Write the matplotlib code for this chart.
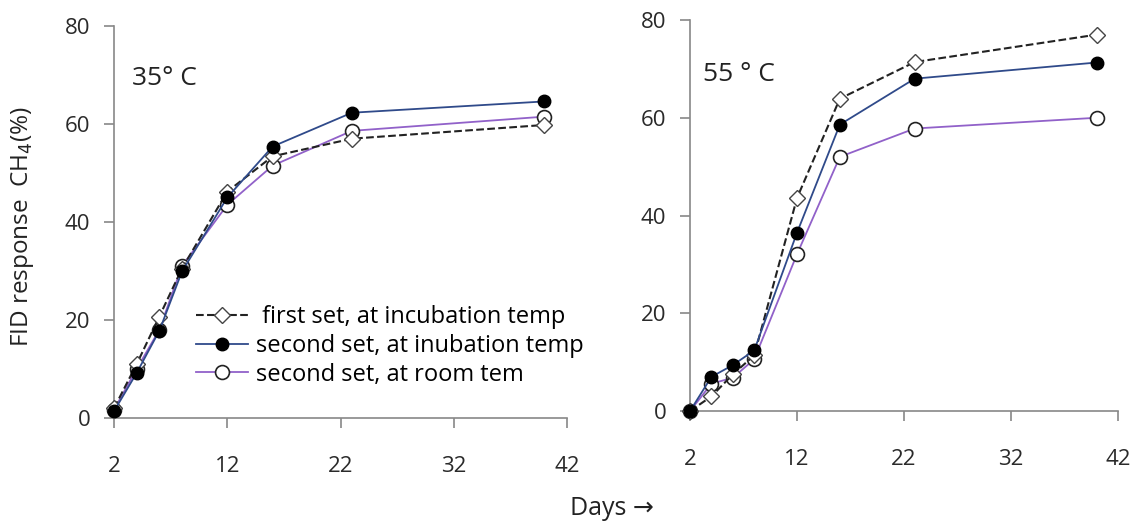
import matplotlib.pyplot as plt

plt.rcParams["font.family"] = ["Open Sans", "DejaVu Sans"]

# Data
days = [2, 4, 6, 8, 12, 16, 23, 40]

first_35 = [2.0, 11.0, 20.7, 30.5, 46.2, 53.4, 57.0, 59.8]
second_inc_35 = [1.4, 9.2, 17.8, 29.9, 45.0, 55.4, 62.3, 64.6]
second_room_35 = [1.7, 10.0, 18.0, 31.0, 43.5, 51.5, 58.6, 61.5]

first_55 = [0.0, 3.0, 7.5, 11.4, 43.6, 63.9, 71.4, 77.0]
second_inc_55 = [0.0, 7.0, 9.4, 12.4, 36.5, 58.6, 68.0, 71.3]
second_room_55 = [0.0, 5.6, 6.8, 10.6, 32.1, 52.0, 57.8, 60.0]

labels = [" first set, at incubation temp",
          "second set, at inubation temp",
          "second set, at room tem"]
xticks = [2, 12, 22, 32, 42]
yticks = [0, 20, 40, 60, 80]

fig = plt.figure(figsize=(11.37, 5.25), dpi=100)
ax1 = fig.add_axes([0.1003, 0.2038, 0.3984, 0.7467])
ax2 = fig.add_axes([0.6069, 0.2171, 0.3764, 0.7448])


def draw(ax, first, inc, room):
    ax.plot(days, first, "--", color="#222222", lw=1.5, marker="D", ms=8,
            mfc="white", mec="#444444", mew=1.0, label=labels[0], zorder=3)
    ax.plot(days, inc, "-", color="#2f4a8a", lw=1.3, marker="o", ms=9,
            mfc="black", mec="black", label=labels[1], zorder=4)
    ax.plot(days, room, "-", color="#9161c9", lw=1.3, marker="o", ms=10,
            mfc="white", mec="#222222", mew=1.2, label=labels[2], zorder=2)
    ax.set_xlim(2, 42)
    ax.set_ylim(0, 80)
    ax.set_xticks(xticks)
    ax.set_yticks(yticks)
    for s in ["top", "right"]:
        ax.spines[s].set_visible(False)
    for s in ["left", "bottom"]:
        ax.spines[s].set_color("#888888")
        ax.spines[s].set_linewidth(1.2)
    ax.tick_params(axis="both", colors="#888888", labelcolor="#2a2a2a",
                   labelsize=16, length=7, width=1.2)
    ax.tick_params(axis="x", pad=20)
    ax.tick_params(axis="y", pad=10)
    for line in ax.lines:
        line.set_clip_on(False)


draw(ax1, first_35, second_inc_35, second_room_35)
draw(ax2, first_55, second_inc_55, second_room_55)

ax1.text(3.6, 68, "35° C", fontsize=19, color="#222222")
ax2.text(3.2, 67.5, "55 ° C", fontsize=19, color="#222222")

ax1.legend(loc="upper left", bbox_to_anchor=(0.155, 0.318), frameon=False,
           fontsize=17, handlelength=2.2, handletextpad=0.35,
           labelspacing=0.2, borderpad=0)

fig.text(0.02, 0.568, "FID response  CH$_4$(%)", rotation=90, fontsize=17.5,
         ha="center", va="center", color="#222222")
fig.text(0.538, 0.032, "Days →", fontsize=18, ha="center", va="center",
         color="#222222")

fig.savefig("out.png", dpi=100)
